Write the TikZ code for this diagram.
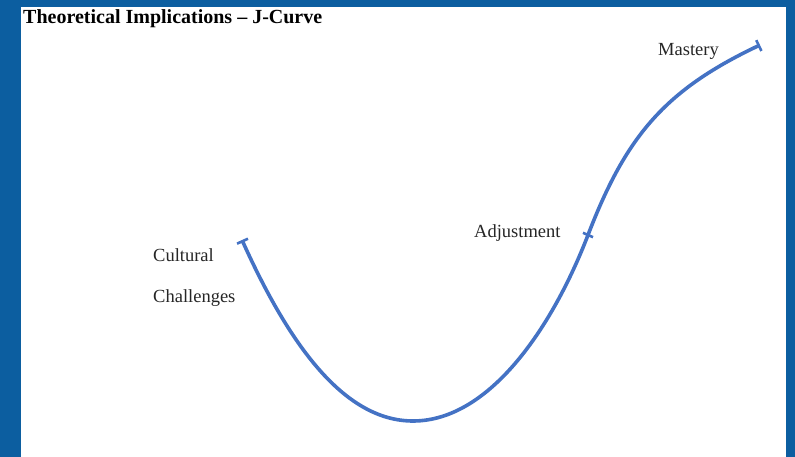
\documentclass[tikz,border=0pt]{standalone}
\usepackage{fontspec}
\setmainfont{Liberation Serif}
\usetikzlibrary{arrows.meta,calc}
\definecolor{frameblue}{RGB}{12,94,160}
\definecolor{curveblue}{RGB}{68,114,196}
\begin{document}
\begin{tikzpicture}[x=1pt,y=-1pt,
  curvestyle/.style={draw=curveblue,line width=3.6pt,line cap=round,
    {Bar[width=12pt,line width=2.6pt,length=2.6pt]}-{Bar[width=12pt,line width=2.6pt,length=2.6pt]}},
  tickstyle/.style={draw=curveblue,line width=2.6pt},
  lbl/.style={inner sep=0pt,anchor=base west,font=\fontsize{18.5}{22}\selectfont,text=black!85},
  ttl/.style={inner sep=0pt,anchor=base west,font=\fontsize{20}{24}\selectfont\bfseries,text=black}]
\useasboundingbox (0,0) rectangle (795,457);
\fill[frameblue] (0,0) rectangle (795,457);
\fill[white] (21,7) rectangle (786,457);
\node[ttl] (title) at (23,24) {Theoretical Implications – J-Curve};
\node[lbl] (cult) at (153,261) {Cultural};
\node[lbl] (chal) at (153,302) {Challenges};
\node[lbl] (adjl) at (474,237) {Adjustment};
\node[lbl] (mast) at (658,56) {Mastery};
\coordinate (start) at (242,240);
\coordinate (low) at (413,421);
\coordinate (adj) at (588,235);
\coordinate (top) at (760,45);
\draw[curvestyle] (start) .. controls (288,342) and (343,421) .. (low)
  .. controls (490,421) and (553,326) .. (adj)
  .. controls (626,136) and (665,90) .. (top);
\draw[tickstyle] ($(adj)+(-5,-2.2)$) -- ($(adj)+(5,2.2)$);
\end{tikzpicture}
\end{document}
